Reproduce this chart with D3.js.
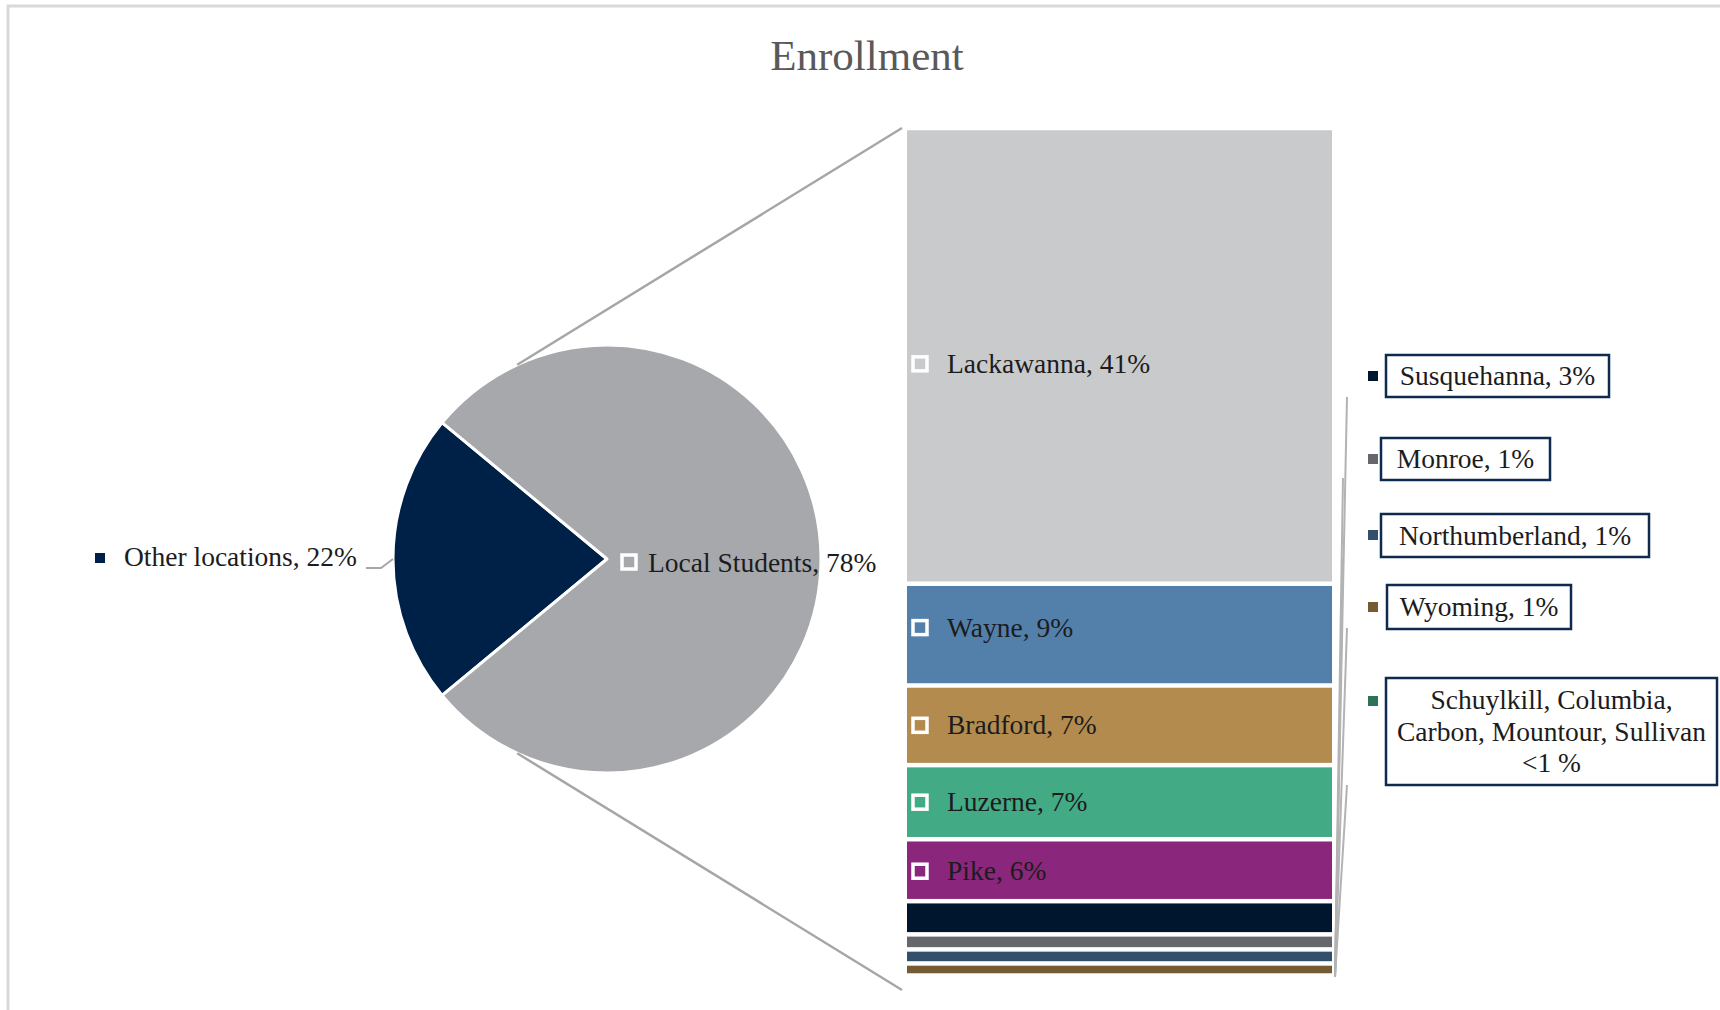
<!DOCTYPE html>
<html><head><meta charset="utf-8">
<script src="https://cdn.jsdelivr.net/npm/d3@7"></script>
<style>
body{margin:0;background:#fff;}
text{font-family:"Liberation Serif","DejaVu Serif",serif;}
</style></head>
<body><svg id="c" width="1720" height="1010"></svg>
<script>
// ---- data ----
const titleText = "Enrollment";
const pieCategories = ["Other locations", "Local Students"];
const pieValues = [22, 78];
const pieLabels = ["Other locations, 22%", "Local Students, 78%"];
const barCategories = ["Lackawanna","Wayne","Bradford","Luzerne","Pike","Susquehanna","Monroe","Northumberland","Wyoming","Schuylkill","Columbia","Carbon","Mountour","Sullivan"];
const barValues = [41.2, 9.2, 7.2, 6.7, 5.6, 3.0, 1.36, 1.27, 1.09, 0.27, 0.26, 0.26, 0.26, 0.26];
const insideLabels = ["Lackawanna, 41%","Wayne, 9%","Bradford, 7%","Luzerne, 7%","Pike, 6%"];
const outsideLabels = [["Susquehanna, 3%"],["Monroe, 1%"],["Northumberland, 1%"],["Wyoming, 1%"],["Schuylkill,  Columbia,","Carbon, Mountour, Sullivan","<1 %"]];
const pieColors = ["#002147", "#a7a8ac"];
const barColors = ["#c9cacc","#5280ab","#b38b4f","#43aa86","#8a267b","#00162e","#66676b","#324f6c","#755b32","#2e7356","#2e7356","#2e7356","#2e7356","#2e7356"];
const outsideColors = ["#00162e","#66676b","#324f6c","#755b32","#2e7356"];

// ---- layout ----
const svg = d3.select("#c");
svg.append("rect").attr("x",8).attr("y",6).attr("width",1740).attr("height",1030)
  .attr("fill","none").attr("stroke","#d9d9d9").attr("stroke-width",3);

svg.append("text").attr("x",867).attr("y",70).attr("text-anchor","middle")
  .attr("font-size",43).attr("fill","#595959").text(titleText);

const cx = 607, cy = 559, R = 214;
const share0 = pieValues[0] / d3.sum(pieValues);
const pie = d3.pie().sort(null)
  .startAngle(1.5*Math.PI - Math.PI*share0)
  .endAngle(1.5*Math.PI - Math.PI*share0 + 2*Math.PI);
const arcs = pie(pieValues);
const arc = d3.arc().innerRadius(0).outerRadius(R);
const gp = svg.append("g").attr("transform",`translate(${cx},${cy})`);
gp.selectAll("path").data(arcs).join("path")
  .attr("d",arc).attr("fill",(d,i)=>pieColors[i])
  .attr("stroke","#fff").attr("stroke-width",3).attr("stroke-linejoin","round");

// bar stack
const barX0 = 907, barX1 = 1332;
const y = d3.scaleLinear().domain([0, d3.sum(barValues)]).range([128, 990]);
const cum = d3.cumsum(barValues);
const starts = barValues.map((v,i)=> cum[i]-v);
const gap = 4.5;
svg.append("g").selectAll("rect").data(barValues).join("rect")
  .attr("x",barX0).attr("width",barX1-barX0)
  .attr("y",(d,i)=>y(starts[i]) + gap/2)
  .attr("height",(d,i)=>Math.max(0, y(cum[i]) - y(starts[i]) - gap))
  .attr("fill",(d,i)=>barColors[i]);

// zoom lines from pie to bar
function pt(a){ return [cx + R*Math.sin(a), cy - R*Math.cos(a)]; }
const aTop = -24.8*Math.PI/180, aBot = Math.PI + 24.8*Math.PI/180;
const pT = pt(aTop), pB = pt(aBot);
svg.append("line").attr("x1",pT[0]).attr("y1",pT[1]).attr("x2",902).attr("y2",y(0))
  .attr("stroke","#a6a6a6").attr("stroke-width",2.5);
svg.append("line").attr("x1",pB[0]).attr("y1",pB[1]).attr("x2",902).attr("y2",y(d3.sum(barValues)))
  .attr("stroke","#a6a6a6").attr("stroke-width",2.5);

const FS = 27.5, TXT = "#1c1c1c";

// pie labels
svg.append("rect").attr("x",95).attr("y",553).attr("width",10).attr("height",10).attr("fill",pieColors[0]);
svg.append("text").attr("x",124).attr("y",566).attr("font-size",FS).attr("fill",TXT).text(pieLabels[0]);
svg.append("polyline").attr("points","366,568 381,568 393,559").attr("fill","none")
  .attr("stroke","#a6a6a6").attr("stroke-width",2);
svg.append("rect").attr("x",622).attr("y",555).attr("width",14).attr("height",14)
  .attr("fill",pieColors[1]).attr("stroke","#fff").attr("stroke-width",3.5);
svg.append("text").attr("x",648).attr("y",572).attr("font-size",FS).attr("fill",TXT).text(pieLabels[1]);

// inside bar labels
const labelOffsets = [8, -7, 0, 0, 1];
insideLabels.forEach((t,i)=>{
  const mid = (y(starts[i]) + y(cum[i]))/2 + labelOffsets[i];
  svg.append("rect").attr("x",913).attr("y",mid-7).attr("width",14).attr("height",14)
    .attr("fill",barColors[i]).attr("stroke","#fff").attr("stroke-width",3.5);
  svg.append("text").attr("x",947).attr("y",mid+9).attr("font-size",FS).attr("fill",TXT).text(t);
});

// leader lines for small segments
const leaderTops = [[1347,397],[1343,478],[1343,557],[1347,628],[1347,785]];
leaderTops.forEach(p=>{
  svg.append("line").attr("x1",1335).attr("y1",977).attr("x2",p[0]).attr("y2",p[1])
    .attr("stroke","#b3b3b3").attr("stroke-width",2);
});

// outside boxed labels
const boxes = [[1386,355,223,42],[1381,438,169,42],[1381,514,268,43],[1387,585,184,44],[1386,678,331,107]];
const markerY = [376,459,535,607,701];
outsideLabels.forEach((lines,i)=>{
  const b = boxes[i];
  svg.append("rect").attr("x",1368).attr("y",markerY[i]-5).attr("width",10).attr("height",10).attr("fill",outsideColors[i]);
  svg.append("rect").attr("x",b[0]).attr("y",b[1]).attr("width",b[2]).attr("height",b[3])
    .attr("fill","#fff").attr("stroke","#0d2a4f").attr("stroke-width",2.5);
  const t = svg.append("text").attr("text-anchor","middle").attr("font-size",FS).attr("fill",TXT);
  if (lines.length === 1) {
    t.attr("x",b[0]+b[2]/2).attr("y",b[1]+b[3]/2+9).text(lines[0]);
  } else {
    const bl = [709,741,772];
    lines.forEach((l,j)=> t.append("tspan").attr("x",b[0]+b[2]/2).attr("y",bl[j]).text(l));
  }
});
</script>
</body></html>
